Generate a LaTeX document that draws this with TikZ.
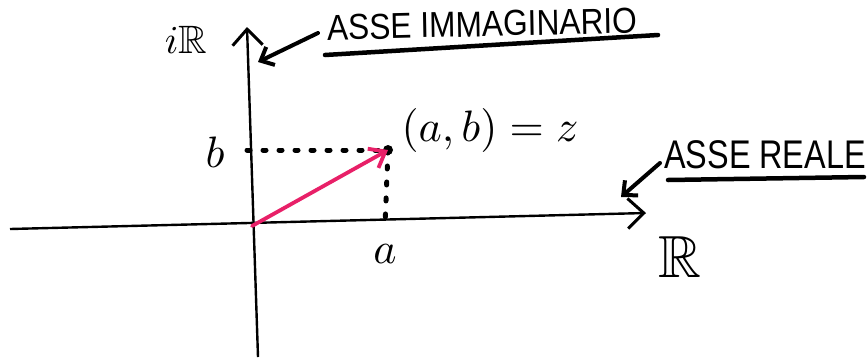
\documentclass[tikz,border=0pt]{standalone}
\usepackage{amssymb}
\usepackage{fontspec}
\setmainfont{Liberation Sans}
\usetikzlibrary{arrows.meta}

\definecolor{vecpink}{RGB}{232,32,104}

\begin{document}
\begin{tikzpicture}[
  x=1pt, y=-1pt,
  axis/.style={draw=black, line width=2.4pt},
  axtip/.style={-{Straight Barb[length=16pt, width=30pt, line width=3pt]}},
  note/.style={draw=black, line width=4pt, line cap=round,
    -{Straight Barb[length=11pt, width=20pt, line width=4pt]}},
  under/.style={draw=black, line width=4.5pt, line cap=round},
  guide/.style={draw=black, line width=5pt, line cap=round, dash pattern=on 3pt off 13pt},
  vec/.style={draw=vecpink, line width=3.8pt, line cap=round,
    -{Straight Barb[length=14pt, width=22pt, line width=3.8pt]}},
  lbl/.style={inner sep=0pt, scale=4.4},
  caption/.style={inner sep=0pt, font=\fontsize{36}{36}\selectfont, xscale=0.88}
]
  \useasboundingbox (0,0) rectangle (868,360);

  % Axes
  \coordinate (xl) at (10,229);
  \coordinate (xr) at (646,213);
  \coordinate (yb) at (258,357);
  \coordinate (yt) at (247,27);
  \draw[axis, axtip] (xl)--(xr);
  \draw[axis, axtip] (yb)--(yt);

  % Point z and its projections
  \coordinate (o) at (252,226);
  \node[circle, fill=black, minimum size=10pt, inner sep=0pt] (z) at (388,150) {};
  \coordinate (pb) at (247,150);
  \coordinate (pa) at (385,226);
  \draw[guide] (pb)--(z.center);
  \draw[guide] (z.center)--(pa);
  \draw[vec] (o)--(z.center);

  % Labels on the axes
  \node[lbl] (b) at (215,152) {$b$};
  \node[lbl] (a) at (385,254) {$a$};
  \node[lbl] (zlab) at (490,130) {$(a,b)=z$};
  \node[lbl, scale=0.9] (ir) at (186,40) {$i\mathbb{R}$};
  \node[lbl, scale=1.35] (rr) at (680,257) {$\mathbb{R}$};

  % Axis names
  \node[caption, rotate=1.2] (imm) at (482,24) {ASSE IMMAGINARIO};
  \coordinate (imml) at (325,55);
  \coordinate (immr) at (658,35);
  \draw[under] (imml)--(immr);
  \coordinate (immfrom) at (318,33);
  \coordinate (immto) at (258,62);
  \draw[note] (immfrom)--(immto);

  \node[caption, font=\fontsize{40}{40}\selectfont, xscale=0.92] (rea) at (765,155) {ASSE REALE};
  \coordinate (real) at (668,180);
  \coordinate (rear) at (864,177);
  \draw[under] (real)--(rear);
  \coordinate (reafrom) at (660,163);
  \coordinate (reato) at (621,197);
  \draw[note] (reafrom)--(reato);
\end{tikzpicture}
\end{document}
